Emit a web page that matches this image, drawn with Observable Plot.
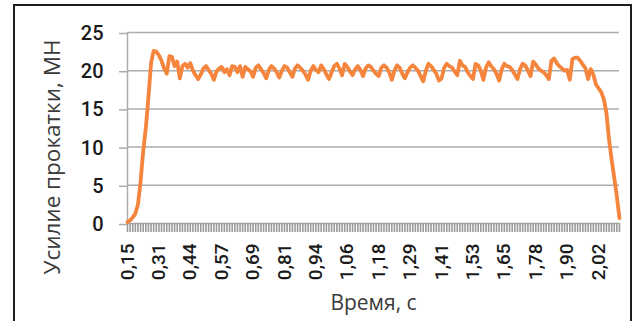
<!DOCTYPE html>
<html>
<head>
<meta charset="utf-8">
<script src="https://cdn.jsdelivr.net/npm/d3@7"></script>
<script src="https://cdn.jsdelivr.net/npm/@observablehq/plot@0.6"></script>
<style>
  html, body { margin: 0; padding: 0; width: 640px; height: 321px; overflow: hidden; background: #fff; }
  #wrap { position: relative; width: 640px; height: 321px; }
  #frame { position: absolute; left: 13px; top: 4px; width: 619px; height: 400px; border: 2px solid #1e1e1e; box-sizing: border-box; pointer-events: none; }
  #chart { position: absolute; left: 0; top: 0; }
  #ytitle { position: absolute; left: 52px; top: 157px; transform: translate(-50%, -50%) rotate(-90deg); white-space: nowrap;
            font-family: "Open Sans", sans-serif; font-size: 22.5px; color: #3a3a3a; line-height: 1; }
</style>
</head>
<body>
<div id="wrap"><div id="chart"></div><div id="ytitle"></div><div id="frame"></div></div>
<script>
// Rolling force, MN, one value per time sample (category)
const values = [
  0.2, 0.4, 0.8, 1.3, 2.5, 5.5, 9.5, 12.5, 16.5, 21.0,
  22.6, 22.5, 22.0, 21.3, 20.3, 19.6, 21.9, 21.8, 20.6, 21.2,
  19.0, 20.6, 20.9, 20.4, 21.0, 20.0, 19.4, 18.9, 19.5, 20.3,
  20.6, 20.1, 19.6, 18.8, 19.9, 20.3, 20.5, 19.8, 20.2, 19.4,
  20.6, 20.5, 19.8, 20.6, 19.2, 20.5, 20.2, 19.9, 19.2, 20.4,
  20.7, 20.2, 19.7, 19.0, 20.1, 20.6, 20.3, 19.8, 19.1, 20.0,
  20.6, 20.4, 19.8, 19.2, 20.3, 20.7, 20.4, 20.0, 19.5, 18.8,
  20.0, 20.6, 20.1, 19.8, 20.7, 20.2, 19.5, 18.9, 19.8, 20.6,
  20.9, 20.3, 19.4, 20.9, 20.5, 19.9, 19.4, 20.2, 20.6, 20.1,
  19.3, 20.3, 20.7, 20.5, 20.0, 19.6, 19.3, 20.4, 20.7, 20.4,
  19.8, 18.8, 20.0, 20.7, 20.4, 19.6, 19.0, 19.8, 20.4, 20.7,
  20.4, 20.0, 19.3, 18.6, 20.0, 20.9, 20.6, 20.1, 19.6, 18.7,
  19.0, 20.4, 20.9, 20.6, 20.4, 19.9, 19.4, 21.3, 20.7, 20.5,
  19.8, 19.3, 18.9, 20.9, 20.7, 20.0, 18.8, 20.4, 21.1, 20.6,
  20.2, 19.6, 18.7, 20.2, 20.9, 20.6, 20.5, 20.1, 19.5, 18.9,
  20.2, 20.9, 20.7, 20.0, 19.3, 21.2, 20.8, 20.3, 20.0, 19.8,
  19.4, 18.9, 21.3, 21.6, 21.0, 20.6, 20.3, 20.0, 20.1, 18.8,
  21.5, 21.7, 21.7, 21.3, 20.8, 20.3, 18.9, 20.2, 19.5, 18.2,
  17.7, 17.2, 16.3, 14.5, 11.0, 8.3, 6.0, 3.5, 0.7
];
// Time labels (s), shown on every 12th sample
const timeLabels = ["0,15","0,31","0,44","0,57","0,69","0,81","0,94","1,06","1,18","1,29","1,41","1,53","1,65","1,78","1,90","2,02"];
const labelEvery = 12;
const yTicks = [0, 5, 10, 15, 20, 25];
const yTitle = "Усилие прокатки, МН";
const xTitle = "Время, с";

const samples = values.map((v, i) => ({i, v}));
const sampleTicks = samples.map(d => d.i);

const chart = Plot.plot({
  width: 640,
  height: 321,
  marginLeft: 127,
  marginRight: 21,
  marginTop: 32,
  marginBottom: 98,
  style: {fontFamily: "Roboto", fontSize: "19px", fontWeight: 500, color: "#1a1a1a", background: "transparent", overflow: "visible"},
  x: {type: "linear", domain: [0, values.length - 1]},
  y: {domain: [0, 25]},
  marks: [
    Plot.gridY(yTicks, {stroke: "#acacac", strokeOpacity: 1, strokeWidth: 1.5}),
    Plot.ruleX([0], {stroke: "#acacac", strokeWidth: 1.5}),
    Plot.axisY(yTicks, {tickSize: 8, tickPadding: 16, stroke: "#acacac", strokeWidth: 1.5, fill: "#1a1a1a", fontSize: 20, label: null, dy: 1}),
    Plot.axisX(sampleTicks, {
      tickSize: 9, tickPadding: 11, tickRotate: -90,
      stroke: "#9b9b9b", strokeWidth: 1.6, fill: "#1a1a1a", fontSize: 19, label: null,
      tickFormat: i => (i % labelEvery === 0 && timeLabels[i / labelEvery] !== undefined) ? timeLabels[i / labelEvery] : ""
    }),
    Plot.lineY(samples, {x: "i", y: "v", stroke: "#f5853c", strokeWidth: 3.8, strokeLinejoin: "round", strokeLinecap: "round"}),
    Plot.text([xTitle], {text: d => d, frameAnchor: "bottom", dy: 86, fontFamily: "Open Sans", fontWeight: 400, fontSize: 21, fill: "#3a3a3a"})
  ]
});
document.getElementById("chart").appendChild(chart);
document.getElementById("ytitle").textContent = yTitle;
</script>
</body>
</html>
